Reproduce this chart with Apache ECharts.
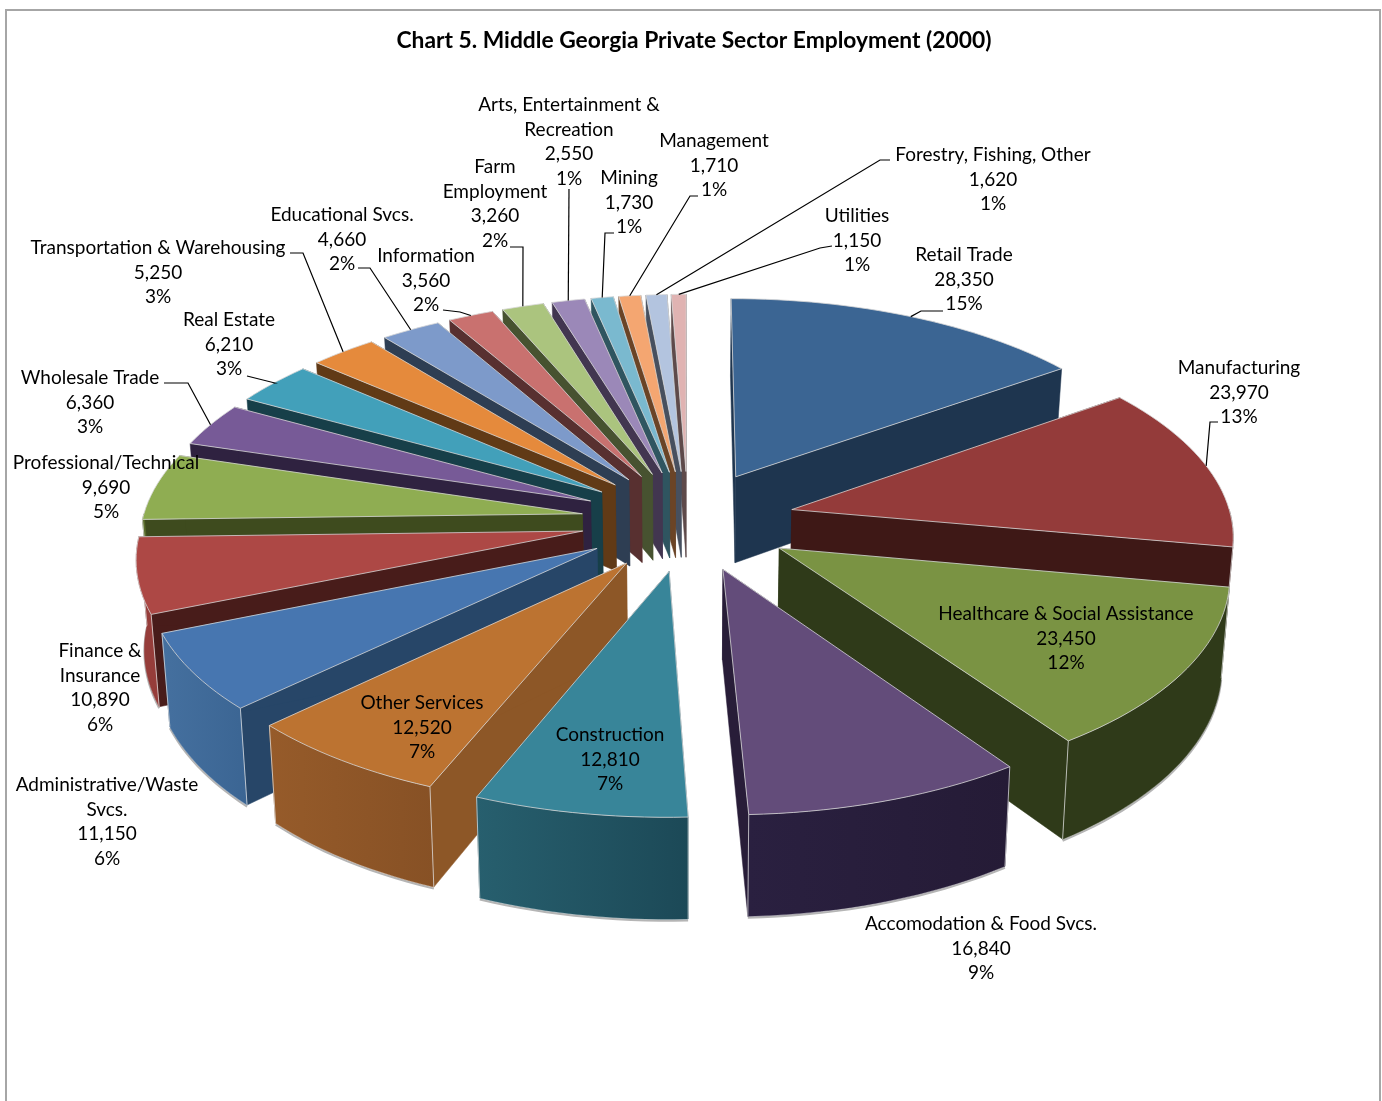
<!DOCTYPE html>
<html><head><meta charset="utf-8">
<style>html,body{margin:0;padding:0;background:#fff}#c{width:1382px;height:1101px}</style>
<script src="https://cdn.jsdelivr.net/npm/echarts@6/dist/echarts.min.js"></script>
</head><body><div id="c"></div>
<script>
// ---- chart data ----
const title = 'Chart 5. Middle Georgia Private Sector Employment (2000)';
const categories = ['Retail Trade','Manufacturing','Healthcare & Social Assistance','Accomodation & Food Svcs.','Construction','Other Services','Administrative/Waste\nSvcs.','Finance &\nInsurance','Professional/Technical','Wholesale Trade','Real Estate','Transportation & Warehousing','Educational Svcs.','Information','Farm\nEmployment','Arts, Entertainment &\nRecreation','Mining','Management','Forestry, Fishing, Other','Utilities'];
const values = [28350,23970,23450,16840,12810,12520,11150,10890,9690,6360,6210,5250,4660,3560,3260,2550,1730,1710,1620,1150];
// ---- colours ----
const topColors = ['#3B6593','#943B3A','#7A9343','#634C7A','#388599','#BC7331','#4776B0','#AD4845','#8FAD52','#775A97','#42A0BA','#E58A3C','#7D9ACA','#C9716F','#ABC47E','#9B88B8','#7AB9CF','#F4A671','#B3C4DF','#E0B3B2'];
const sideColors = ['#1E354F','#3E1816','#2F3A19','#281D38','#1F4F5E','#8D5727','#274668','#481C1A','#3E4B1E','#2F2240','#173F49','#613A16','#2E3E53','#583030','#475230','#423650','#2F5560','#6B4426','#47505F','#5E4A4A'];
const wallFrom = ['#1E354F','#3E1816','#2F3A19','#2A2040','#275F6E','#965B2A','#45709F','#963D3A','#5A6E2C','#4A3562','#256878','#A0602A','#4A6288','#7F4A48','#6F8050','#5F4F78','#4A7F90','#A0704A','#707F95','#958080'];
const wallTo   = ['#1E354F','#3E1816','#2F3A19','#251B36','#1C4957','#875125','#3B6593','#963D3A','#5A6E2C','#4A3562','#256878','#A0602A','#4A6288','#7F4A48','#6F8050','#5F4F78','#4A7F90','#A0704A','#707F95','#958080'];
// ---- projection and layout settings ----
const cx = 688, cy = 520.5, radius = 440, explode = 107, tiltK = 0.47, persp = 0.00025, depth = 88, lowerScale = 0.985;
const labelX = [964,1239,1066,981,610,422,107,100,106,90,229,158,342,426,495,569,629,714,993,857];
const labelY = [255,368,614,924,735,703,785,651,463,378,320,248,215,256,167,105,178,141,155,216];
const leaderFrom = [[943,311],[1218,422],null,null,null,null,null,null,null,[164,383],[247,376],[290,253],[358,268],[443,310],[510,247],[569,189],[614,233],[698,196],[890,160],[832,246]];
const leaderElbow = [[921,311],[1210,422],null,null,null,null,null,null,null,[188,383],[275,383],[303,253],[370,268],[460,312],[523,247],null,[605,233],[690,196],[880,160],[820,248]];

const total = values.reduce((a, b) => a + b, 0);
const starts = [];
values.reduce((sum, v, i) => { starts[i] = sum / total * Math.PI * 2; return sum + v; }, 0);
const ends = values.map((v, i) => starts[i] + v / total * Math.PI * 2);
const mids = values.map((v, i) => (starts[i] + ends[i]) / 2);

function project(i, r, a, lower) {
  const X = explode * Math.sin(mids[i]) + r * Math.sin(a);
  const Y = -explode * Math.cos(mids[i]) - r * Math.cos(a);
  const s = 1 / (1 - persp * Y);
  let x = X * s;
  let y = tiltK * Y * s;
  if (lower) { x *= lowerScale; y += depth * s; }
  return [cx + x, cy + y];
}
function arcPts(i, lower, from, to) {
  const pts = [], n = Math.max(4, Math.ceil((to - from) / 0.03));
  for (let k = 0; k <= n; k++) pts.push(project(i, radius, from + (to - from) * k / n, lower));
  return pts;
}
const frontFacing = a => Math.cos(a) < 0;
const drawOrder = values.map((v, i) => i).sort((p, q) => Math.cos(mids[q]) - Math.cos(mids[p]));
const sliceData = drawOrder.map(i => [i, values[i]]);
const labelData = values.map((v, i) => [i, v]);

function renderSlice(params, api) {
  const i = api.value(0);
  const tipT = project(i, 0, 0, false), tipB = project(i, 0, 0, true);
  const topArc = arcPts(i, false, starts[i], ends[i]), lowArc = arcPts(i, true, starts[i], ends[i]);
  const poly = (points, fill, stroke, lw) => ({ type: 'polygon', shape: { points }, silent: true, style: { fill, stroke: stroke || fill, lineWidth: lw || 0.5 } });
  const line = (points, stroke, lw) => ({ type: 'polyline', shape: { points }, silent: true, style: { fill: 'none', stroke, lineWidth: lw } });
  const a = topArc[0], b = topArc[topArc.length - 1], al = lowArc[0], bl = lowArc[lowArc.length - 1];
  const children = [
    poly([tipT, a, al, tipB], sideColors[i]),
    poly([tipT, b, bl, tipB], sideColors[i])
  ];
  const from = Math.max(starts[i], Math.PI / 2), to = Math.min(ends[i], Math.PI * 1.5);
  if (to > from) {
    const upper = arcPts(i, false, from, to), lower = arcPts(i, true, from, to);
    const grad = new echarts.graphic.LinearGradient(0, 0, 1, 0, [{ offset: 0, color: wallFrom[i] }, { offset: 1, color: wallTo[i] }]);
    children.push(line(lower.map(p => [p[0], p[1] + 1.5]), '#b5b5b5', 2));
    children.push(poly(upper.concat(lower.slice().reverse()), grad));
  }
  if (frontFacing(starts[i])) children.push(line([a, al], 'rgba(225,225,225,0.75)', 1));
  if (frontFacing(ends[i])) children.push(line([b, bl], 'rgba(225,225,225,0.75)', 1));
  children.push(poly([tipT].concat(topArc), topColors[i], 'rgba(215,215,215,0.8)', 1));
  return { type: 'group', children };
}
function renderLabel(params, api) {
  const i = api.value(0), v = api.value(1);
  const pct = Math.round(v / total * 100) + '%';
  const text = categories[i] + '\n' + v.toLocaleString('en-US') + '\n' + pct;
  const children = [{ type: 'text', silent: true, style: { x: labelX[i], y: labelY[i] - 12, text, align: 'center', verticalAlign: 'top', lineHeight: 24.5, font: '19px Lato', fill: '#000' } }];
  if (leaderFrom[i]) {
    const end = project(i, radius, mids[i], false);
    const pts = leaderElbow[i] ? [leaderFrom[i], leaderElbow[i], end] : [leaderFrom[i], end];
    children.push({ type: 'polyline', silent: true, shape: { points: pts }, style: { fill: 'none', stroke: '#000', lineWidth: 1.2 } });
  }
  return { type: 'group', children };
}
const chart = echarts.init(document.getElementById('c'));
chart.setOption({
  animation: false,
  backgroundColor: '#fff',
  title: { text: title, left: 689, top: 24, textAlign: 'center', textStyle: { fontFamily: 'Lato', fontWeight: 'bold', fontSize: 22.8, color: '#000' } },
  graphic: [{ type: 'rect', silent: true, shape: { x: 6, y: 10, width: 1374, height: 1200 }, style: { fill: 'none', stroke: '#A6A6A6', lineWidth: 2 } }],
  series: [
    { type: 'custom', name: 'slices', coordinateSystem: 'none', data: sliceData, renderItem: renderSlice, z: 2, clip: false },
    { type: 'custom', name: 'labels', coordinateSystem: 'none', data: labelData, renderItem: renderLabel, z: 3, clip: false }
  ]
});
</script></body></html>
